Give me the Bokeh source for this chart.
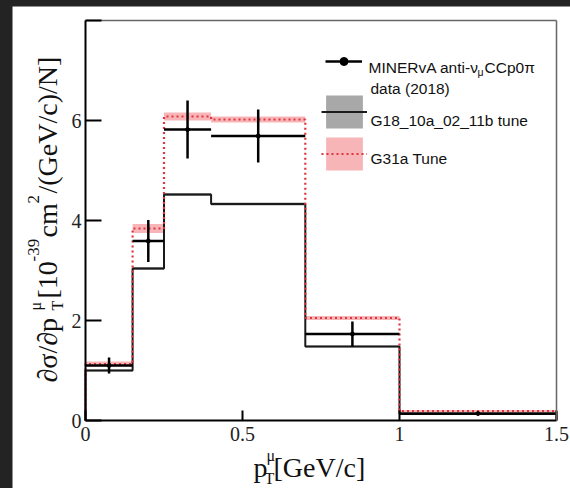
import numpy as np
from bokeh.plotting import figure
from bokeh.models import Range1d, Label, Legend, LegendItem, FixedTicker, LinearAxis
from bokeh.layouts import column
from bokeh.embed import file_html
from bokeh.resources import INLINE

# ---------------- data ----------------
bin_edges = [0.0, 0.15, 0.25, 0.4, 0.7, 1.0, 1.5]
data_vals = [1.10, 3.59, 5.82, 5.69, 1.73, 0.14]
data_errs = [0.16, 0.42, 0.58, 0.53, 0.25, 0.02]
g18_vals = [1.00, 3.04, 4.52, 4.33, 1.48, 0.13]
g18_errs = [0.02, 0.03, 0.03, 0.03, 0.02, 0.01]
g31_vals = [1.13, 3.84, 6.08, 6.02, 2.05, 0.19]
g31_errs = [0.05, 0.09, 0.08, 0.06, 0.04, 0.02]
x_ticks = [0, 0.5, 1, 1.5]
x_tick_labels = ["0", "0.5", "1", "1.5"]
y_ticks = [0, 2, 4, 6, 8]
y_tick_labels = ["0", "2", "4", "6", ""]
X_MIN, X_MAX = 0.0, 1.5
Y_MIN, Y_MAX = 0.0, 8.0

SERIF = "Liberation Serif"
SANS = "Liberation Sans"

# ---------------- geometry (window pixels) ----------------
PANEL_L, PANEL_T = 12, 6          # white panel origin in the window
W, H = 558, 482                   # figure size
L, R, T, B = 85, 556, 20, 420     # axes box in window pixels

sx = (R - L) / (X_MAX - X_MIN)
sy = (B - T) / (Y_MAX - Y_MIN)
x_start = X_MIN - (L - PANEL_L) / sx
x_end = X_MAX + (PANEL_L + W - R) / sx
y_end = Y_MAX + (T - PANEL_T) / sy
y_start = Y_MIN - (PANEL_T + H - B) / sy

edges = np.array(bin_edges)
lo, hi = edges[:-1], edges[1:]
centers = (lo + hi) / 2


def step_xy(vals):
    xs, ys = [edges[0]], [0.0]
    for a, b, v in zip(lo, hi, vals):
        xs += [a, b]
        ys += [v, v]
    xs.append(edges[-1])
    ys.append(0.0)
    return xs, ys


p = figure(width=W, height=H,
           x_range=Range1d(x_start, x_end), y_range=Range1d(y_start, y_end),
           min_border=0, min_border_left=0, min_border_right=0, min_border_top=0, min_border_bottom=0,
           output_backend="svg", toolbar_location=None,
           background_fill_color="white", border_fill_color="white")
p.margin = (PANEL_T, 0, 0, PANEL_L)
p.grid.visible = False
p.outline_line_color = None

for ax in (p.xaxis[0], p.yaxis[0]):
    ax.axis_line_color = "black"
    ax.axis_line_width = 2
    ax.major_tick_line_color = "black"
    ax.major_tick_line_width = 2
    ax.major_tick_out = 0
    ax.minor_tick_line_color = None
    ax.major_label_text_font = SERIF
    ax.major_label_text_font_size = "20px"
    ax.major_label_text_color = "#222222"

p.xaxis.fixed_location = Y_MIN
p.xaxis.bounds = (X_MIN, X_MAX)
p.xaxis.ticker = FixedTicker(ticks=x_ticks)
p.xaxis.major_label_overrides = dict(zip(x_ticks, x_tick_labels))
p.xaxis.major_tick_in = 10
p.xaxis.major_label_standoff = 6

p.yaxis.fixed_location = X_MIN
p.yaxis.bounds = (Y_MIN, Y_MAX)
p.yaxis.ticker = FixedTicker(ticks=y_ticks)
p.yaxis.major_label_overrides = dict(zip(y_ticks, y_tick_labels))
p.yaxis.major_tick_in = 16
p.yaxis.major_label_standoff = 4

# frame lines on top and right
for side, loc, bnds in (("above", Y_MAX, (X_MIN, X_MAX)), ("right", X_MAX, (Y_MIN, Y_MAX))):
    a = LinearAxis(fixed_location=loc, bounds=bnds, axis_line_color="#666666", axis_line_width=1.5,
                   major_tick_line_color=None, minor_tick_line_color=None,
                   major_label_text_font_size="0px", ticker=FixedTicker(ticks=[]))
    p.add_layout(a, side)

# bands
r_g31_band = p.quad(left=lo, right=hi, bottom=np.array(g31_vals) - np.array(g31_errs),
                    top=np.array(g31_vals) + np.array(g31_errs),
                    fill_color="#f7a8ac", fill_alpha=0.85, line_color=None)
r_g18_band = p.quad(left=lo, right=hi, bottom=np.array(g18_vals) - np.array(g18_errs),
                    top=np.array(g18_vals) + np.array(g18_errs),
                    fill_color="#a8a8a8", fill_alpha=1.0, line_color=None)
# lines
gx, gy = step_xy(g18_vals)
r_g18_line = p.line(gx, gy, line_color="#1a1a1a", line_width=2)
rx, ry = step_xy(g31_vals)
r_g31_line = p.line(rx, ry, line_color="#e0343f", line_width=2.2, line_dash="2 3")
# data
r_dh = p.segment(x0=lo, x1=hi, y0=data_vals, y1=data_vals, line_color="black", line_width=2.5)
p.segment(x0=centers, x1=centers, y0=np.array(data_vals) - np.array(data_errs),
          y1=np.array(data_vals) + np.array(data_errs), line_color="black", line_width=2.5)
r_dot = p.scatter(centers, data_vals, marker="circle", size=4, color="black")

# legends (swatches); location = bottom-left corner relative to frame bottom-left
FB = PANEL_T + H
leg1 = Legend(items=[LegendItem(label=" ", renderers=[r_dh, r_dot])],
              location=(325 - PANEL_L, FB - 71), glyph_width=37, glyph_height=20, padding=0, margin=0,
              border_line_color=None, background_fill_alpha=0, label_text_font_size="1px",
              label_standoff=0, label_width=1)
leg2 = Legend(items=[LegendItem(label=" ", renderers=[r_g18_band, r_g18_line]),
                     LegendItem(label=" ", renderers=[r_g31_band, r_g31_line])],
              location=(320.5 - PANEL_L, FB - 174), glyph_width=46, glyph_height=41, spacing=1,
              padding=0, margin=0,
              border_line_color=None, background_fill_alpha=0, label_text_font_size="1px",
              label_standoff=0, label_width=1)
p.add_layout(leg1)
p.add_layout(leg2)


def dx(px):
    return X_MIN + (px - L) / sx


def dy(py):
    return Y_MIN + (B - py) / sy


def lab(px, py, text, size, font=SERIF, angle=0, color="#111111"):
    p.add_layout(Label(x=dx(px), y=dy(py), text=text, text_font=font,
                       text_font_size=f"{size}px", angle=angle, text_color=color,
                       text_align="left", text_baseline="alphabetic"))


# x title
lab(253, 467, "p", 28)
lab(266, 455, "μ", 16)
lab(264, 478, "T", 16)
lab(273, 467, "[GeV/c]", 28)

# y title (rotated, reading upwards)
A = np.pi / 2
lab(47, 382, "∂σ/∂p", 28, angle=A)
lab(35, 310, "μ", 16, angle=A)
lab(57, 310, "T", 16, angle=A)
lab(47, 298, "[10", 28, angle=A)
lab(33, 261, "-39", 17, angle=A)
lab(47, 237, "cm", 28, angle=A)
lab(33, 203, "2", 17, angle=A)
lab(47, 193, "/(GeV/c)/N]", 28, angle=A)

# legend texts
lab(368, 67, "MINERvA anti-ν", 15.5, font=SANS)
lab(477, 71, "μ", 10.5, font=SANS)
lab(484, 67, "CCp0π", 15.5, font=SANS)
lab(370, 88, "data (2018)", 15.5, font=SANS)
lab(370, 120, "G18_10a_02_11b tune", 15.5, font=SANS)
lab(370, 158, "G31a Tune", 15.5, font=SANS)

lay = column(p, styles={"background-color": "#232323"})
open("out.html", "w").write(file_html(lay, INLINE))
